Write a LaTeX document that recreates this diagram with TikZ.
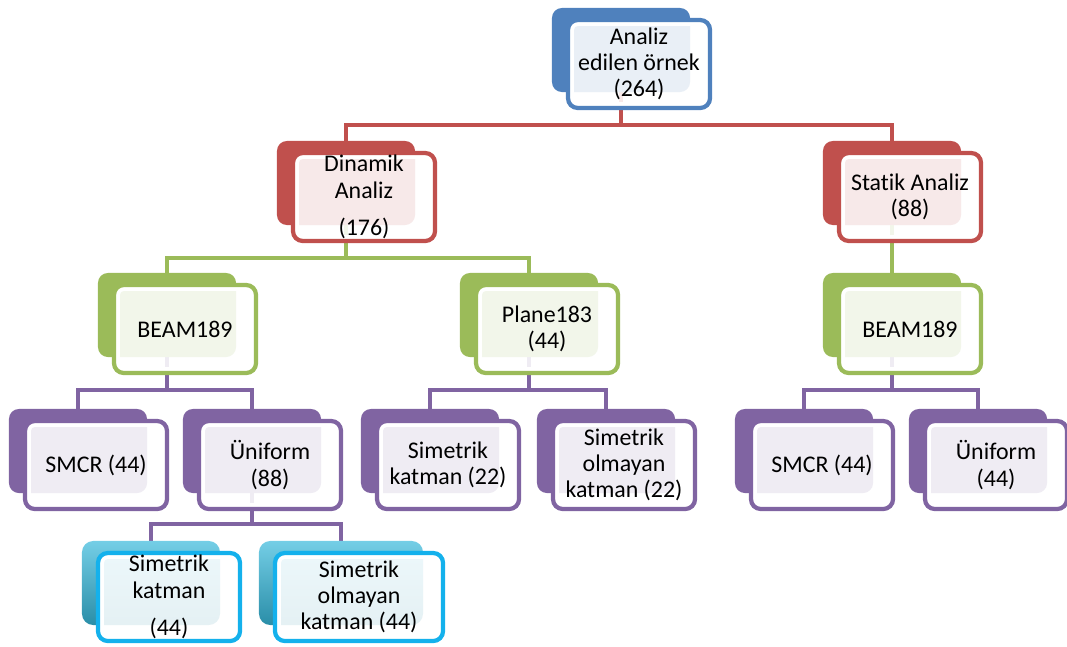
\documentclass[tikz,border=0pt]{standalone}
\usepackage{fontspec}
\setmainfont{Carlito}[Ligatures=CommonOff]
\usetikzlibrary{calc,fit}
\definecolor{mavi}{HTML}{4F81BD}
\definecolor{kirmizi}{HTML}{C0504D}
\definecolor{yesil}{HTML}{9BBB59}
\definecolor{mor}{HTML}{8064A2}
\definecolor{camkenar}{HTML}{14B1EC}
\definecolor{camust}{HTML}{74CEE6}
\definecolor{cam}{HTML}{3FB6D4}
\definecolor{camalt}{HTML}{2A8EA8}
\pgfdeclarelayer{baglanti}
\pgfdeclarelayer{arka}
\pgfdeclarelayer{ara}
\pgfsetlayers{baglanti,arka,ara,main}
\tikzset{
  onkutu/.style={draw=#1, line width=3pt, fill=white, fill opacity=.88, text opacity=1,
    rounded corners=7pt, minimum width=3.55cm, minimum height=2.2cm, inner sep=1pt,
    outer sep=0pt, align=center, font=\fontsize{17}{18.6}\selectfont},
  arkakutu/.style={fill=#1, rounded corners=7pt, inner sep=0pt, outer sep=0pt},
  golgekutu/.style={top color=camust, middle color=cam, bottom color=camalt,
    rounded corners=8pt, inner sep=0pt, outer sep=0pt},
  hat/.style={draw=#1, line width=3pt},
}
% kutu[front options][back options](name)(position){text}
\def\kutu[#1][#2](#3)(#4)#5{%
  \node[onkutu=#1] (#3) at (#4) {#5};
  \begin{pgfonlayer}{ara}
    \draw[white, line width=2.6pt, rounded corners=4pt] ($(#3.north west)+(4,4)$) rectangle ($(#3.south east)+(-4,-4)$);
  \end{pgfonlayer}
  \begin{pgfonlayer}{arka}
    \node[#2, fit={($(#3.north west)+(-16,-12)$) ($(#3.south east)+(-20,-16)$)}] (#3-a) {};
  \end{pgfonlayer}}

\begin{document}
\begin{tikzpicture}[x=0.025cm, y=-0.025cm]
		%%%%% START %%%%%
		\useasboundingbox (0, 0) rectangle (1067, 646);
		
		\kutu[mavi][arkakutu=mavi](ust)(639, 64){Analiz\\edilen örnek\\(264)}
		
		\kutu[kirmizi][arkakutu=kirmizi](dinamik)(364, 197){Dinamik\\Analiz\\[8pt](176)}
		\kutu[kirmizi][arkakutu=kirmizi](statik)(910, 197){Statik Analiz\\(88)}
		
		\kutu[yesil][arkakutu=yesil](beamsol)(185, 329){BEAM189}
		\kutu[yesil][arkakutu=yesil](plane)(547, 329){Plane183\\(44)}
		\kutu[yesil][arkakutu=yesil](beamsag)(910, 329){BEAM189}
		
		\kutu[mor][arkakutu=mor](smcrsol)(96, 465){SMCR (44)}
		\kutu[mor][arkakutu=mor](unisol)(270, 465){Üniform\\(88)}
		\kutu[mor][arkakutu=mor](simyirmi)(448, 465){Simetrik\\katman (22)}
		\kutu[mor][arkakutu=mor](asimyirmi)(624, 465){Simetrik\\olmayan\\katman (22)}
		\kutu[mor][arkakutu=mor](smcrsag)(822, 465){SMCR (44)}
		\kutu[mor][arkakutu=mor](unisag)(996, 465){Üniform\\(44)}
		
		\kutu[camkenar][golgekutu](simkirk)(169, 597){Simetrik\\katman\\[8pt](44)}
		\kutu[camkenar, minimum width=4.2cm][golgekutu](asimkirk)(359, 597){Simetrik\\olmayan\\katman (44)}
		
		\begin{pgfonlayer}{baglanti}
		\draw[hat=kirmizi] (ust-a.south) -- ++(0, 33) -| (dinamik-a.north);
		\draw[hat=kirmizi] (ust-a.south) -- ++(0, 33) -| (statik-a.north);
		
		\draw[hat=yesil] (dinamik-a.south) -- ++(0, 33) -| (beamsol-a.north);
		\draw[hat=yesil] (dinamik-a.south) -- ++(0, 33) -| (plane-a.north);
		\draw[hat=yesil] (statik-a.south) -- (beamsag-a.north);
		
		\draw[hat=mor] (beamsol-a.south) -- ++(0, 33) -| (smcrsol-a.north);
		\draw[hat=mor] (beamsol-a.south) -- ++(0, 33) -| (unisol-a.north);
		\draw[hat=mor] (plane-a.south) -- ++(0, 33) -| (simyirmi-a.north);
		\draw[hat=mor] (plane-a.south) -- ++(0, 33) -| (asimyirmi-a.north);
		\draw[hat=mor] (beamsag-a.south) -- ++(0, 33) -| (smcrsag-a.north);
		\draw[hat=mor] (beamsag-a.south) -- ++(0, 33) -| (unisag-a.north);
		
		\draw[hat=mor] (unisol-a.south) -- ++(0, 31) -| (simkirk-a.north);
		\draw[hat=mor] (unisol-a.south) -- ++(0, 31) -| (asimkirk-a.north);
		\end{pgfonlayer}
		%%%%% END %%%%%
\end{tikzpicture}
\end{document}
